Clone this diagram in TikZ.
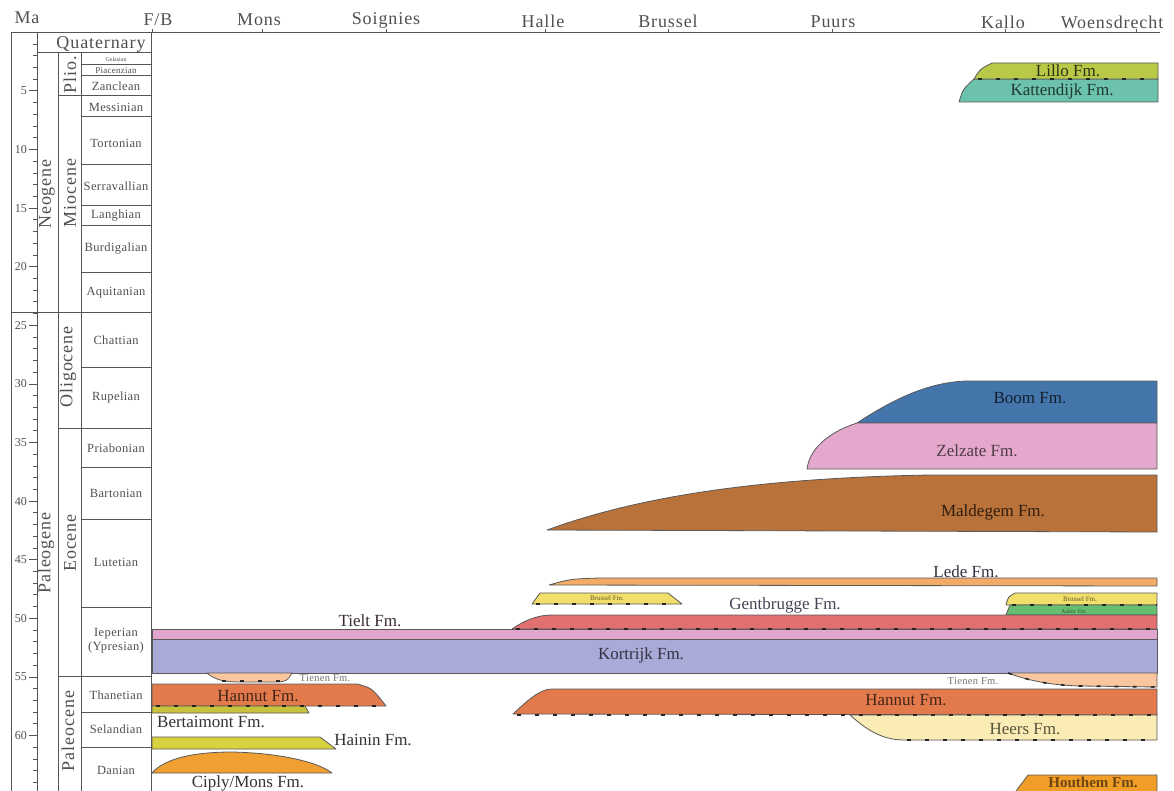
\documentclass[tikz,border=0pt]{standalone}
\usepackage{fontspec}
\setmainfont{Liberation Serif}
\newfontfamily\widefont[LetterSpace=3]{Liberation Serif}
\newfontfamily\widerfont[LetterSpace=5]{Liberation Serif}
\usepackage{tikz}

\definecolor{chartline}{RGB}{85,85,85}
\definecolor{charttext}{RGB}{80,80,80}
\definecolor{lillo}{RGB}{186,200,72}
\definecolor{kattendijk}{RGB}{108,194,172}
\definecolor{boom}{RGB}{68,118,172}
\definecolor{zelzate}{RGB}{228,168,204}
\definecolor{maldegem}{RGB}{184,114,58}
\definecolor{lede}{RGB}{242,172,104}
\definecolor{brussel}{RGB}{242,222,106}
\definecolor{aalter}{RGB}{104,190,112}
\definecolor{gentbrugge}{RGB}{226,112,112}
\definecolor{tielt}{RGB}{226,166,206}
\definecolor{kortrijk}{RGB}{170,170,216}
\definecolor{tienen}{RGB}{250,198,158}
\definecolor{hannut}{RGB}{226,122,76}
\definecolor{bertaimont}{RGB}{200,194,62}
\definecolor{heers}{RGB}{250,236,180}
\definecolor{hainin}{RGB}{216,210,64}
\definecolor{ciply}{RGB}{240,160,50}
\definecolor{houthem}{RGB}{240,158,40}

\begin{document}
\begin{tikzpicture}[x=1pt,y=-1pt]
			\fill[white] (0,0) rectangle (1174,791);
			\useasboundingbox (0,0) rectangle (1174,791);
			\tikzstyle{every node}=[inner sep=1pt]
			\tikzstyle{chart}=[draw=chartline,line width=1pt]
			\tikzstyle{layer}=[draw=black!65,line width=0.8pt,line join=round]
			\tikzstyle{hiatus}=[draw=black!85,line width=1.6pt,dash pattern=on 4pt off 14pt]
			\tikzstyle{stage}=[text=charttext,font=\widefont\fontsize{12.5}{14}\selectfont]
			\tikzstyle{period}=[text=charttext,rotate=90,font=\widerfont\fontsize{18}{18}\selectfont]
			\tikzstyle{site}=[text=charttext,font=\widerfont\fontsize{18}{18}\selectfont]
			\tikzstyle{fm}=[font=\fontsize{17}{18}\selectfont]
			\tikzstyle{smallfm}=[text=black!55,font=\widefont\fontsize{10.5}{12}\selectfont]
			\tikzstyle{tinyfm}=[text=black!60!brussel,font=\fontsize{7}{8}\selectfont]
			
			%% Time scale
			\draw[chart] (11,33) -- (1160,33);
			\draw[chart] (11,33) -- (11,791);
			\draw[chart] (37,33) -- (37,791);
			\draw[chart] (58,53) -- (58,791);
			\draw[chart] (81,53) -- (81,791);
			\draw[chart] (151,33) -- (151,791);
			\draw[chart] (37,53) -- (151,53);
			\draw[chart] (11,312) -- (151,312);
			\foreach \y in {96,428,676} \draw[chart] (58,\y) -- (151,\y);
			\foreach \y in {65,76,117,165,206,226,273,367,467,519,607,712,747} \draw[chart] (81,\y) -- (151,\y);
			\foreach \m in {1,...,64} \draw[chart] (33,{32.4+11.72*\m}) -- (37,{32.4+11.72*\m});
			\foreach \m in {5,10,...,60} {
				\draw[chart] (29,{32.4+11.72*\m}) -- (37,{32.4+11.72*\m});
				\draw (28,{32.4+11.72*\m}) node [anchor=east,text=charttext,font=\fontsize{12}{12}\selectfont] (ma\m) {\m};
			}
			\draw (27,18) node [site] (ma) {Ma};
			
			%% Periods and epochs
			\draw (101,44) node [text=charttext,font=\widerfont\fontsize{18}{18}\selectfont] (quat) {Quaternary};
			\draw (47,194) node [period] (neogene) {Neogene};
			\draw (46,553) node [period] (paleogene) {Paleogene};
			\draw (70,75) node [period] (plio) {Plio.};
			\draw (70,193) node [period] (miocene) {Miocene};
			\draw (68,367) node [period] (oligocene) {Oligocene};
			\draw (70,543) node [period] (eocene) {Eocene};
			\draw (68,731) node [period] (paleocene) {Paleocene};
			
			%% Stages
			\draw (116,59) node [stage,font=\fontsize{6}{6}\selectfont] (gel) {Gelasian};
			\draw (116,70.5) node [stage,font=\widefont\fontsize{9}{9}\selectfont] (pia) {Piacenzian};
			\draw (116,86) node [stage] (zan) {Zanclean};
			\draw (116,107) node [stage] (mes) {Messinian};
			\draw (116,143) node [stage] (tor) {Tortonian};
			\draw (116,186) node [stage] (ser) {Serravallian};
			\draw (116,216) node [stage] (lan) {Langhian};
			\draw (116,249) node [stage] (bur) {Burdigalian};
			\draw (116,293) node [stage] (aqu) {Aquitanian};
			\draw (116,340) node [stage] (cha) {Chattian};
			\draw (116,397) node [stage] (rup) {Rupelian};
			\draw (116,448) node [stage] (pri) {Priabonian};
			\draw (116,493) node [stage] (bar) {Bartonian};
			\draw (116,562) node [stage] (lut) {Lutetian};
			\draw (116,641) node [stage,align=center] (ype) {Ieperian\\(Ypresian)};
			\draw (116,695) node [stage] (tha) {Thanetian};
			\draw (116,729) node [stage] (sel) {Selandian};
			\draw (116,770) node [stage] (dan) {Danian};
			
			%% Sections
			\foreach \x in {152,262,386,545,668,832,1005,1136} \draw[chart] (\x,33) -- (\x,29);
			\draw (158,20) node [site] (fb) {F/B};
			\draw (259,20) node [site] (mons) {Mons};
			\draw (386,20) node [site] (soignies) {Soignies};
			\draw (543,21) node [site] (halle) {Halle};
			\draw (668,21) node [site] (brussel) {Brussel};
			\draw (833,22) node [site] (puurs) {Puurs};
			\draw (1003,22) node [site] (kallo) {Kallo};
			\draw (1112,22) node [site] (woensdrecht) {Woensdrecht};
			
			%% Neogene formations
			\path[layer,fill=kattendijk] (959,102) .. controls (963,89) .. (974,79) -- (1158,79) -- (1158,102) -- cycle;
			\path[layer,fill=lillo] (974,79) .. controls (980,69) .. (992,63) -- (1158,63) -- (1158,79) -- cycle;
			\draw[hiatus] (978,79) -- (1158,79);
			\draw (1068,71) node [fm,text=black!75!lillo] (lillofm) {Lillo Fm.};
			\draw (1062,91) node [fm,text=black!70!kattendijk] (kattendijkfm) {Kattendijk Fm.};
			
			%% Oligocene - Eocene formations
			\path[layer,fill=boom] (857,423) .. controls (895,398) and (930,382) .. (967,381) -- (1157,381) -- (1157,423) -- cycle;
			\path[layer,fill=zelzate] (807,469) .. controls (810,445) and (835,430) .. (857,423) -- (1157,423) -- (1157,469) -- cycle;
			\path[layer,fill=maldegem] (547,530) .. controls (640,496) and (760,478) .. (930,475) -- (1157,475) -- (1157,532) -- cycle;
			\path[layer,fill=lede] (549,585) .. controls (570,579) .. (600,578) -- (1157,578) -- (1157,586) -- cycle;
			\draw (1030,398) node [fm,text=black!75!boom] (boomfm) {Boom Fm.};
			\draw (977,451) node [fm,text=black!65!zelzate] (zelzatefm) {Zelzate Fm.};
			\draw (993,512) node [fm,text=black!75!maldegem] (maldegemfm) {Maldegem Fm.};
			\draw (966,572) node [fm,text=black!70!kortrijk] (ledefm) {Lede Fm.};
			
			\path[layer,fill=brussel] (532,604) -- (540,593) -- (668,593) -- (682,604) -- cycle;
			\draw[hiatus] (536,604) -- (680,604);
			\draw (607,598) node [tinyfm] (brusselfma) {Brussel Fm.};
			\path[layer,fill=brussel] (1006,605) .. controls (1008,597) .. (1015,593) -- (1157,593) -- (1157,605) -- cycle;
			\path[layer,fill=aalter] (1006,615) -- (1010,605) -- (1157,605) -- (1157,615) -- cycle;
			\draw[hiatus] (1012,605) -- (1157,605);
			\draw (1080,599) node [tinyfm] (brusselfmb) {Brussel Fm.};
			\draw (1074,611) node [tinyfm,text=black!55!aalter,font=\fontsize{6}{6}\selectfont] (aalterfm) {Aalter Fm.};
			
			\path[layer,fill=tielt] (152,629) rectangle (1157,639);
			\path[layer,fill=gentbrugge] (512,629) .. controls (525,620) and (538,615) .. (552,615) -- (1157,615) -- (1157,629) -- cycle;
			\draw[hiatus] (516,629) -- (1157,629);
			\path[layer,fill=kortrijk] (152,639) rectangle (1157,673);
			\draw (785,605) node [fm,text=black!60!kortrijk] (gentbruggefm) {Gentbrugge Fm.};
			\draw (370,621) node [fm,text=black!75!tielt] (tieltfm) {Tielt Fm.};
			\draw (641,655) node [fm,text=black!70!kortrijk] (kortrijkfm) {Kortrijk Fm.};
			
			%% Paleocene formations
			\path[layer,fill=tienen] (207,673) .. controls (215,680) and (225,682) .. (240,682) -- (278,682) .. controls (287,681) .. (292,673) -- cycle;
			\draw[hiatus] (222,681) -- (286,681);
			\path[layer,fill=tienen] (1008,673) .. controls (1030,681) and (1050,685) .. (1080,686) -- (1157,687) -- (1157,673) -- cycle;
			\draw[hiatus] (1008,673) .. controls (1030,681) and (1050,685) .. (1080,686) -- (1157,687);
			\draw (325,678) node [smallfm] (tienenfma) {Tienen Fm.};
			\draw (973,681) node [smallfm] (tienenfmb) {Tienen Fm.};
			
			\path[layer,fill=hannut] (152,684) -- (357,684) .. controls (372,688) .. (386,706) -- (152,706) -- cycle;
			\path[layer,fill=bertaimont] (152,706) -- (305,706) -- (309,713) -- (152,713) -- cycle;
			\draw[hiatus] (156,706) -- (384,706);
			\path[layer,fill=hainin] (152,737) -- (320,737) -- (336,749) -- (152,749) -- cycle;
			\path[layer,fill=ciply] (152,773) .. controls (165,758) and (195,752) .. (232,752) .. controls (280,753) and (318,762) .. (332,773) -- cycle;
			\draw (258,696) node [fm,text=black!70!hannut] (hannutfma) {Hannut Fm.};
			\draw (211,722) node [fm,text=black!80] (bertaimontfm) {Bertaimont Fm.};
			\draw (373,740) node [fm,text=black!80] (haininfm) {Hainin Fm.};
			\draw (248,783) node [fm,text=black!80] (ciplyfm) {Ciply/Mons Fm.};
			
			\path[layer,fill=hannut] (513,714) .. controls (528,700) and (540,689) .. (552,689) -- (1157,689) -- (1157,715) -- cycle;
			\path[layer,fill=heers] (850,715) .. controls (870,733) and (885,740) .. (905,740) -- (1157,740) -- (1157,715) -- cycle;
			\draw[hiatus] (517,715) -- (1157,715);
			\draw[hiatus] (907,740) -- (1157,740);
			\path[layer,fill=houthem] (1013,795) -- (1028,775) -- (1157,775) -- (1157,795);
			\draw (906,700) node [fm,text=black!70!hannut] (hannutfmb) {Hannut Fm.};
			\draw (1025,729) node [fm,text=black!65!heers] (heersfm) {Heers Fm.};
			\draw (1093,782) node [fm,text=black!55!houthem,font=\bfseries\fontsize{15}{16}\selectfont] (houthemfm) {Houthem Fm.};
			
		\end{tikzpicture}
\end{document}
